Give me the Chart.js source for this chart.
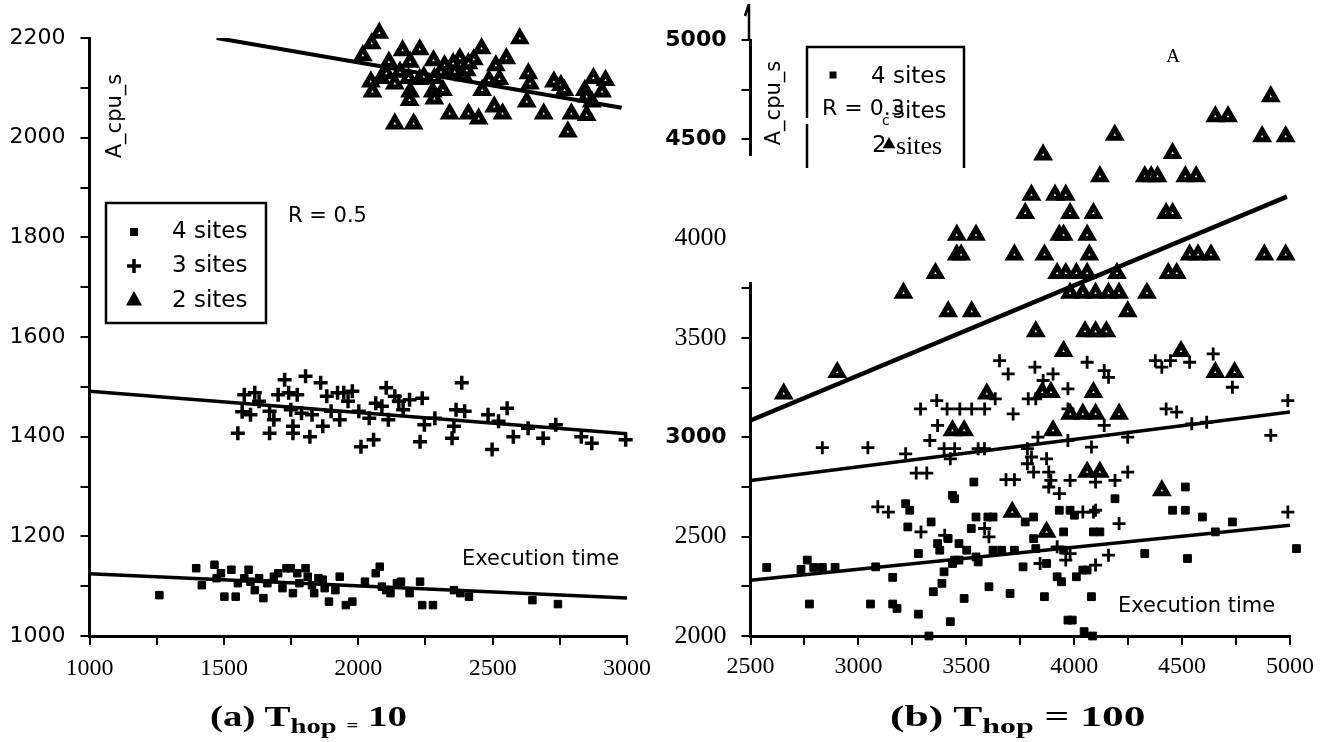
<!DOCTYPE html>
<html>
<head>
<meta charset="utf-8">
<script src="https://cdn.jsdelivr.net/npm/chart.js@4.4.1/dist/chart.umd.min.js"></script>
<style>
body { margin: 0; background: #fff; }
#page { position: relative; width: 1322px; height: 742px; overflow: hidden; }
canvas { position: absolute; top: 0; }
.cap { position: absolute; top: 699px; font-family: 'Liberation Serif', serif; font-weight: bold; font-size: 30px;
       white-space: nowrap; color: #000; transform-origin: left center; }
.cap sub { font-size: 22px; vertical-align: -7px; }
.cap .small { font-size: 16px; vertical-align: -5px; }
</style>
</head>
<body>
<div id="page">
  <canvas id="chartA" width="660" height="700" style="left:0"></canvas>
  <canvas id="chartB" width="662" height="700" style="left:660px"></canvas>
  <div class="cap" style="left:210px; transform: scaleX(1.3)">(a) T<sub>hop</sub> <span class="small">=</span> 10</div>
  <div class="cap" style="left:890px; transform: scaleX(1.45)">(b) T<sub>hop</sub> = 100</div>
</div>
<script>
// noms de la légende et étiquettes d'axes
const legendNames = ['4 sites', '3 sites', '2 sites'];
const leftXLabels = [1000, 1500, 2000, 2500, 3000];
const leftYLabels = [1000, 1200, 1400, 1600, 1800, 2000, 2200];
const rightXLabels = [2500, 3000, 3500, 4000, 4500, 5000];
const rightYLabels = [2000, 2500, 3000, 3500, 4000, 4500, 5000];
const rightSansLabels = [3000, 4500, 5000]; // ces étiquettes sont en sans-serif gras dans l'original

// (a) T_hop = 10 : points [x, A_cpu_s]
const leftSites4 = [[1260,1082],[1397,1136],[1418,1102],[1465,1143],[1473,1116],[1489,1126],[1502,1079],[1528,1133],
  [1544,1079],[1552,1106],[1576,1116],[1592,1133],[1599,1109],[1615,1092],[1631,1116],[1647,1076],[1662,1106],
  [1686,1119],[1702,1126],[1718,1096],[1733,1136],[1749,1136],[1757,1086],[1773,1126],[1781,1106],[1804,1136],
  [1812,1119],[1828,1102],[1836,1086],[1852,1116],[1868,1113],[1875,1096],[1891,1069],[1915,1092],[1931,1119],
  [1954,1062],[1978,1069],[2025,1109],[2065,1126],[2080,1139],[2088,1099],[2104,1092],[2120,1086],[2144,1106],
  [2159,1109],[2191,1086],[2230,1109],[2238,1062],[2278,1062],[2356,1092],[2380,1086],[2412,1079],[2648,1072],[2743,1064]];
const leftSites3 = [[1552,1407],[1576,1484],[1568,1450],[1599,1444],[1615,1488],[1631,1471],[1670,1451],[1670,1407],
  [1686,1434],[1702,1484],[1726,1514],[1741,1488],[1749,1454],[1757,1407],[1757,1421],[1773,1484],[1789,1447],
  [1804,1521],[1820,1400],[1828,1444],[1860,1508],[1868,1421],[1883,1481],[1899,1451],[1923,1488],[1931,1434],
  [1946,1488],[1962,1471],[1978,1491],[2002,1451],[2010,1380],[2041,1437],[2057,1394],[2065,1467],[2088,1461],
  [2104,1498],[2112,1434],[2136,1481],[2151,1471],[2167,1454],[2191,1474],[2230,1390],[2238,1477],[2246,1424],
  [2285,1437],[2349,1397],[2356,1421],[2364,1454],[2385,1508],[2396,1451],[2483,1444],[2498,1374],[2522,1431],
  [2554,1457],[2577,1400],[2632,1417],[2688,1397],[2735,1424],[2830,1400],[2869,1387],[2995,1394]];
const leftSites2 = [[2050,2189],[2017,2165],[2078,2210],[2165,2175],[2229,2177],[2114,2152],[2193,2152],[2280,2155],
  [2321,2145],[2378,2159],[2430,2157],[2459,2179],[2512,2145],[2551,2159],[2601,2199],[2047,2112],[2053,2092],
  [2085,2119],[2104,2129],[2136,2108],[2155,2132],[2187,2119],[2193,2092],[2191,2075],[2229,2117],[2244,2122],
  [2283,2119],[2277,2092],[2283,2078],[2315,2095],[2308,2132],[2340,2135],[2359,2132],[2391,2125],[2404,2135],
  [2410,2149],[2353,2149],[2461,2095],[2486,2115],[2525,2117],[2633,2129],[2639,2108],[2728,2112],[2754,2105],
  [2767,2095],[2627,2072],[2690,2048],[2793,2048],[2850,2045],[2780,2012],[2340,2048],[2410,2048],[2448,2038],
  [2506,2062],[2537,2048],[2136,2028],[2206,2028],[2843,2095],[2875,2119],[2920,2115],[2907,2092],[2869,2072],[2850,2082]];
const leftFit4 = [[1000,1125],[3000,1076]];
const leftFit3 = [[1000,1491],[3000,1406]];
const leftFit2 = [[1473,2200],[2980,2060]];

// (b) T_hop = 100
const rightSites4 = [[2575,2345],[2763,2382],[2734,2335],[2793,2345],[2833,2345],[2892,2345],[2773,2161],[3056,2161],
  [3080,2348],[3159,2295],[3159,2161],[3179,2139],[3219,2666],[3238,2633],[3229,2549],[3278,2110],[3278,2415],
  [3337,2574],[3327,2000],[3347,2223],[3367,2465],[3377,2432],[3387,2265],[3397,2323],[3416,2490],[3426,2072],
  [3436,2365],[3446,2382],[3466,2382],[3436,2708],[3446,2691],[3466,2465],[3490,2189],[3502,2432],[3535,2775],
  [3545,2398],[3555,2373],[3523,2541],[3545,2599],[3600,2599],[3624,2599],[3605,2248],[3624,2432],[3664,2432],
  [3723,2432],[3703,2214],[3763,2348],[3773,2574],[3812,2599],[3812,2490],[3822,2440],[3862,2198],[3872,2365],
  [3921,2298],[3941,2273],[3931,2633],[3951,2524],[3951,2432],[3971,2080],[3991,2080],[3981,2633],[4001,2608],
  [4010,2298],[4040,2332],[4060,2332],[4046,2022],[4080,2198],[4089,2524],[4119,2524],[4085,2000],[4189,2691],
  [4327,2415],[4456,2633],[4515,2633],[4515,2750],[4525,2390],[4594,2599],[4654,2524],[4733,2574],[5030,2440]];
const rightSites3 = [[2833,2948],[3044,2948],[3219,2917],[3268,2820],[3317,2820],[3288,3143],[3363,3185],[3367,3060],
  [3331,2984],[3397,2943],[3446,2943],[3426,2892],[3411,3143],[3470,3143],[3525,3143],[3585,3143],[3555,2943],
  [3584,2943],[3634,3194],[3654,3386],[3694,3319],[3717,3118],[3684,2787],[3723,2787],[3783,2943],[3787,3194],
  [3822,3194],[3818,3353],[3856,3286],[3902,3319],[3832,3001],[3802,2901],[3783,2867],[3812,2825],[3872,2892],
  [3882,2825],[3892,2783],[3882,2750],[3931,2717],[3971,3244],[3971,3143],[3971,2984],[3981,2783],[4060,3378],
  [4080,2951],[4139,3336],[4159,3302],[4139,3060],[4099,2775],[4099,2633],[4189,2783],[4248,3001],[4248,2825],
  [4208,2566],[4040,2624],[4089,2624],[4376,3386],[4406,3353],[4446,3386],[4426,3143],[4475,3127],[4535,3378],
  [4545,3068],[4614,3076],[4644,3420],[4733,3252],[4911,3010],[4990,3185],[4990,2624],[4159,2407],[4099,2357],
  [3605,2499],[3585,2541],[3400,2507],[3290,2524],[3090,2650],[3139,2624],[3981,2415],[3961,2382],[3921,2449],[3842,2365]];
const rightSites2 = [[4911,4715],[4654,4615],[4713,4615],[4871,4514],[4980,4514],[4188,4522],[4456,4430],[3856,4422],
  [4119,4313],[4327,4313],[4357,4313],[4386,4313],[4515,4313],[4565,4313],[3802,4220],[3911,4220],[3961,4220],
  [3773,4128],[3981,4128],[4089,4128],[4426,4128],[4456,4128],[3456,4019],[3545,4019],[3931,4019],[3951,4019],
  [4060,4019],[3456,3919],[3476,3919],[3723,3919],[3862,3919],[4070,3919],[4535,3919],[4574,3919],[4634,3919],
  [4881,3919],[4980,3919],[3357,3826],[3921,3826],[3961,3826],[4010,3826],[4060,3826],[4198,3826],[4436,3826],
  [4475,3826],[3209,3726],[3981,3726],[4040,3726],[4099,3726],[4159,3726],[4208,3726],[4337,3726],[3416,3634],
  [3525,3634],[4248,3634],[3822,3533],[4050,3533],[4099,3533],[4149,3533],[3951,3433],[4495,3433],[2654,3219],
  [2902,3328],[3595,3219],[3436,3035],[3490,3035],[3852,3227],[3892,3227],[3902,3035],[4089,3227],[3981,3118],
  [4040,3118],[4099,3118],[4208,3118],[4060,2825],[4119,2825],[4654,3328],[4743,3328],[4406,2733],[3713,2624],[3872,2524]];
const rightFit4 = [[2500,2281],[5000,2557]];
const rightFit3 = [[2500,2783],[5000,3127]];
const rightFit2 = [[2500,3085],[4986,4212]];

const SANS = 'DejaVu Sans';
const SERIF = 'Liberation Serif';

const toPts = arr => arr.map(([x, y]) => ({ x, y }));

function squares(arr, r) {
    return { data: toPts(arr), pointStyle: 'rect', pointRadius: r, pointBackgroundColor: '#000',
             pointBorderColor: '#000', pointBorderWidth: 1, showLine: false, clip: false };
}
function crosses(arr, r, w) {
    return { data: toPts(arr), pointStyle: 'cross', pointRadius: r, pointBorderColor: '#000',
             pointBorderWidth: w, showLine: false, clip: false };
}
function triangles(arr, r, w) {
    return { data: toPts(arr), pointStyle: 'triangle', pointRadius: r, pointBackgroundColor: '#fff',
             pointBorderColor: '#000', pointBorderWidth: w, showLine: false, clip: false };
}
function fitLine(arr, w) {
    return { data: toPts(arr), showLine: true, borderColor: '#000', borderWidth: w, pointRadius: 0, fill: false };
}

// petits symboles pour les légendes dessinées à la main
function drawSquare(ctx, x, y, s) { ctx.fillRect(x - s / 2, y - s / 2, s, s); }
function drawCross(ctx, x, y, r, w) {
    ctx.lineWidth = w;
    ctx.beginPath();
    ctx.moveTo(x - r, y); ctx.lineTo(x + r, y);
    ctx.moveTo(x, y - r); ctx.lineTo(x, y + r);
    ctx.stroke();
}
function drawTriangle(ctx, x, y, r) {
    ctx.beginPath();
    ctx.moveTo(x, y - r);
    ctx.lineTo(x + r * 0.9, y + r * 0.6);
    ctx.lineTo(x - r * 0.9, y + r * 0.6);
    ctx.closePath();
    ctx.fill();
}

function axis(min, max, step, labels, font, pad, fitFn) {
    return {
        type: 'linear', min: min, max: max,
        afterFit: fitFn,
        ticks: {
            stepSize: step, autoSkip: false, maxRotation: 0, padding: pad, color: '#000', font: font,
            callback: v => labels.includes(v) ? String(v) : ''
        },
        grid: { drawOnChartArea: false, color: '#000', lineWidth: 2, tickLength: 9 },
        border: { color: '#000', width: 3 }
    };
}

function notesA(chart) {
    const ctx = chart.ctx;
    ctx.save();
    ctx.fillStyle = '#000';
    ctx.strokeStyle = '#000';
    ctx.save();
    ctx.translate(116, 116);
    ctx.rotate(-Math.PI / 2);
    ctx.font = '21px "' + SANS + '"';
    ctx.textAlign = 'center';
    ctx.textBaseline = 'middle';
    ctx.fillText('A_cpu_s', 0, 0);
    ctx.restore();

    ctx.lineWidth = 2.5;
    ctx.strokeRect(106, 203, 160, 120);
    drawSquare(ctx, 134, 232, 8);
    drawCross(ctx, 134, 266, 7, 3.5);
    drawTriangle(ctx, 134, 300, 9);
    ctx.font = '23px "' + SANS + '"';
    ctx.textAlign = 'left';
    ctx.textBaseline = 'middle';
    [232, 266, 301].forEach((y, i) => ctx.fillText(legendNames[i], 172, y));

    ctx.font = '21px "' + SANS + '"';
    ctx.fillText('R = 0.5', 288, 217);
    ctx.font = '21px "' + SANS + '"';
    ctx.fillText('Execution time', 462, 560);
    ctx.restore();
}

function notesB(chart) {
    const ctx = chart.ctx;
    ctx.save();
    ctx.fillStyle = '#000';
    ctx.strokeStyle = '#000';
    // axe vertical interrompu + petite flèche en haut (comme le scan)
    ctx.fillStyle = '#fff';
    ctx.fillRect(76, 156, 20, 126);
    ctx.fillStyle = '#000';
    ctx.lineWidth = 2.5;
    ctx.beginPath();
    ctx.moveTo(89, 4); ctx.lineTo(89, 40);
    ctx.moveTo(89, 4); ctx.lineTo(85, 16);
    ctx.stroke();

    ctx.save();
    ctx.translate(115, 103);
    ctx.rotate(-Math.PI / 2);
    ctx.font = '21px "' + SANS + '"';
    ctx.textAlign = 'center';
    ctx.textBaseline = 'middle';
    ctx.fillText('A_cpu_s', 0, 0);
    ctx.restore();

    // boîte de légende, ouverte en bas
    ctx.lineWidth = 2.5;
    ctx.beginPath();
    ctx.moveTo(147, 168); ctx.lineTo(147, 124);
    ctx.moveTo(147, 118); ctx.lineTo(147, 47);
    ctx.lineTo(304, 47); ctx.lineTo(304, 168);
    ctx.stroke();

    drawSquare(ctx, 173, 75, 7);
    ctx.textAlign = 'left';
    ctx.textBaseline = 'middle';
    ctx.font = '23px "' + SANS + '"';
    ctx.fillText(legendNames[0], 211, 77);
    ctx.font = '22px "' + SANS + '"';
    ctx.fillText('R = 0.3', 162, 109);
    ctx.font = '23px "' + SANS + '"';
    ctx.fillText('sites', 233, 112);
    ctx.font = '14px "' + SANS + '"';
    ctx.fillText('c', 222, 121);
    ctx.font = '23px "' + SANS + '"';
    ctx.fillText('2', 212, 146);
    drawTriangle(ctx, 229, 144, 7);
    ctx.font = '26px "' + SERIF + '"';
    ctx.fillText('sites', 236, 147);

    ctx.font = '19px "' + SERIF + '"';
    ctx.textAlign = 'center';
    ctx.fillText('A', 513, 57);
    ctx.textAlign = 'left';
    ctx.font = '21px "' + SANS + '"';
    ctx.fillText('Execution time', 458, 607);
    ctx.restore();
}

function makeChart(id, datasets, scales, padding, notes) {
    return new Chart(document.getElementById(id), {
        type: 'scatter',
        data: { datasets: datasets },
        options: {
            responsive: false,
            animation: false,
            devicePixelRatio: 1,
            layout: { padding: padding },
            plugins: { legend: { display: false }, tooltip: { enabled: false } },
            scales: scales
        },
        plugins: [{ id: 'notes', afterDraw: notes }]
    });
}

makeChart('chartA', [
    fitLine(leftFit4, 3.5), fitLine(leftFit3, 3.5), fitLine(leftFit2, 4),
    squares(leftSites4, 5.3), crosses(leftSites3, 7, 3.5), triangles(leftSites2, 6.5, 5)
], {
    x: axis(1000, 3000, 250, leftXLabels, { family: SERIF, size: 24 }, 9, s => { s.height = 64; }),
    y: axis(1000, 2200, 100, leftYLabels, { family: SANS, size: 22 }, 15, s => { s.width = 89.5; })
}, { top: 38, right: 30, left: 0, bottom: 0 }, notesA);

makeChart('chartB', [
    fitLine(rightFit4, 3.5), fitLine(rightFit3, 3.5), fitLine(rightFit2, 4.5),
    squares(rightSites4, 5.5), crosses(rightSites3, 6.5, 2.8), triangles(rightSites2, 6.5, 5)
], {
    x: axis(2500, 5000, 250, rightXLabels, { family: SERIF, size: 24 }, 7, s => { s.height = 64; }),
    y: axis(2000, 5000, 250, rightYLabels,
        ctx => rightSansLabels.includes(ctx.tick && ctx.tick.value)
            ? { family: SANS, size: 22, weight: 'bold' }
            : { family: SERIF, size: 26 },
        15, s => { s.width = 90.5; })
}, { top: 40, right: 32, left: 0, bottom: 0 }, notesB);
</script>
</body>
</html>
